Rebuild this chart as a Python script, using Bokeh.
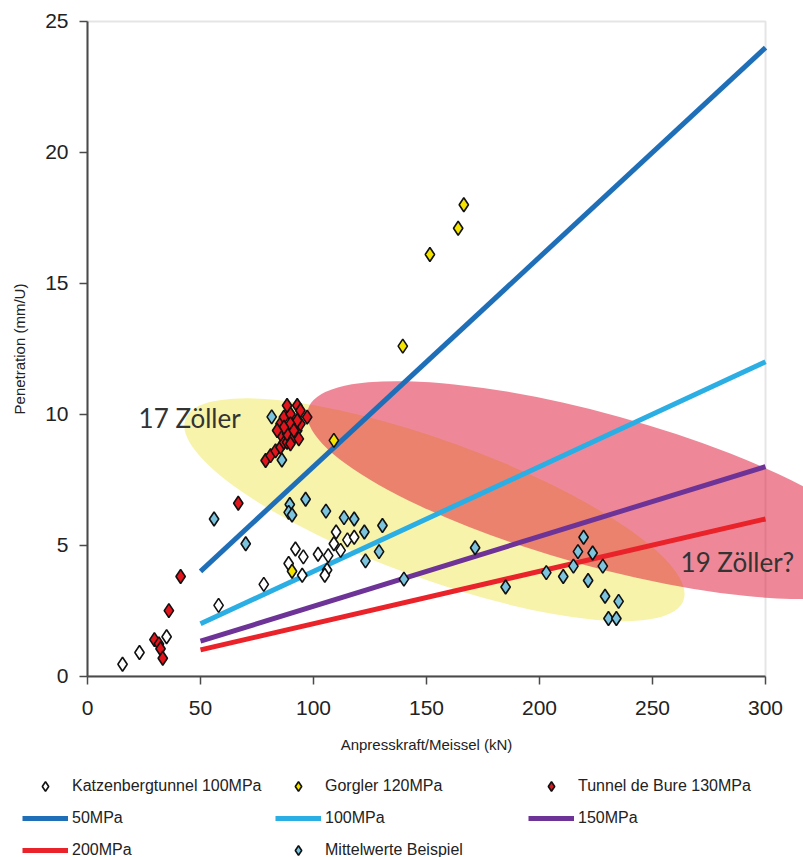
from bokeh.plotting import figure
from bokeh.models import Range1d, FixedTicker, BoxAnnotation, Label, Legend, LegendItem
from bokeh.embed import file_html
from bokeh.resources import INLINE

# ---------------- data ----------------
katz_x = [15.5, 23, 35, 58, 78, 89, 92, 95.5, 95, 102, 106.5, 106, 105, 109, 110, 112, 115, 118]
katz_y = [0.45, 0.9, 1.5, 2.7, 3.5, 4.3, 4.85, 4.55, 3.85, 4.65, 4.6, 4.05, 3.85, 5.05, 5.5, 4.8, 5.2, 5.3]

gorg_x = [90.5, 109, 139.5, 151.5, 164, 166.5]
gorg_y = [4.0, 9.0, 12.6, 16.1, 17.1, 18.0]

bure_x = [29.6, 31.6, 32.3, 33.3, 36, 41.2, 66.7,
          78.8, 81, 83.2, 85.4, 86.9, 88.3, 85.4, 88.3, 91.3, 92.8, 94.2, 85.4, 86.9,
          89.8, 88.3, 92.8, 94.2, 97.2, 92.8, 89.8, 91.3, 86.9, 83.9, 89.8, 93.5]
bure_y = [1.39, 1.23, 1.04, 0.68, 2.5, 3.8, 6.6,
          8.23, 8.42, 8.6, 8.74, 8.93, 8.93, 9.25, 9.25, 9.12, 9.38, 9.63, 9.64, 9.89,
          10.01, 10.33, 10.33, 10.14, 9.89, 9.76, 9.63, 9.38, 9.5, 9.38, 8.87, 9.06]

mitt_x = [56, 70, 81.5, 86, 89.5, 96.5, 89, 90.5, 105.5, 113.5, 118, 122.5, 130.5, 123, 129,
          140, 171.5, 185, 203, 210.5, 215, 217, 219.5, 223.5, 228, 221.5, 229, 235, 230.5, 234]
mitt_y = [6.0, 5.05, 9.9, 8.25, 6.55, 6.75, 6.25, 6.15, 6.3, 6.05, 6.0, 5.5, 5.75, 4.4, 4.75,
          3.7, 4.9, 3.4, 3.95, 3.8, 4.2, 4.75, 5.3, 4.7, 4.2, 3.65, 3.05, 2.85, 2.2, 2.2]

line_x = [50, 300]
mpa50_y = [4, 24]
mpa100_y = [2, 12]
mpa150_y = [1.33, 8]
mpa200_y = [1, 6]

x_ticks = [0, 50, 100, 150, 200, 250, 300]
y_ticks = [0, 5, 10, 15, 20, 25]

# highlight areas: centre (data units), size (screen px), angle (rad)
zone_x = [153.5, 226.5]
zone_y = [6.35, 7.1]
zone_w = [530, 605]
zone_h = [138, 152]
zone_angle = [-0.349, -0.27]
zone_colors = ["#f6f19c", "#dd1131"]
zone_alpha = [0.85, 0.5]

labels_text = ["17 Zöller", "19 Zöller?"]
labels_x = [22.6, 262.4]
labels_y = [9.84, 4.34]

FONT = "Liberation Sans"

# The frame fills the whole canvas; the axes are pinned at x=0 / y=0 so that
# the highlight zones, labels and the legend can use the space around the axes.
p = figure(width=803, height=857, output_backend="svg", toolbar_location=None, title=None,
           x_range=Range1d(-38.5, 316.8), y_range=Range1d(-6.93, 25.8), min_border=0)
p.xgrid.visible = False
p.ygrid.visible = False
p.outline_line_color = None
p.background_fill_color = "white"

# frame border (top/right light grey)
p.add_layout(BoxAnnotation(left=0, right=300, bottom=0, top=25, fill_color=None, fill_alpha=0,
                           line_color="#a8a8a8", line_width=2, level="underlay"))

# highlight ellipses
for i in range(2):
    p.ellipse(x=[zone_x[i]], y=[zone_y[i]], width=[zone_w[i]], height=[zone_h[i]],
              angle=[zone_angle[i]], width_units="screen", height_units="screen",
              fill_color=zone_colors[i], fill_alpha=zone_alpha[i], line_color=None)

# lines
line_styles = [("#1f6fb8", "50MPa"), ("#2aaee4", "100MPa"), ("#6e3396", "150MPa"), ("#ea2229", "200MPa")]
r_lines = []
for ys, (col, _) in zip([mpa50_y, mpa100_y, mpa150_y, mpa200_y], line_styles):
    r_lines.append(p.line(line_x, ys, line_color=col, line_width=5))

# markers
mk = dict(marker="diamond", size=14, line_color="#111111", line_width=1.6)
rk = p.scatter(katz_x, katz_y, fill_color="white", **mk)
rm = p.scatter(mitt_x, mitt_y, fill_color="#7cc3dd", **mk)
rg = p.scatter(gorg_x, gorg_y, fill_color="#f4e400", **mk)
rb = p.scatter(bure_x, bure_y, fill_color="#e2141c", **mk)

for t, lx, ly in zip(labels_text, labels_x, labels_y):
    p.add_layout(Label(x=lx, y=ly, text=t, text_font="Lato", text_font_size="26px",
                       text_color="#333333", text_baseline="middle"))

# axes
for ax in (p.xaxis[0], p.yaxis[0]):
    ax.fixed_location = 0
    ax.axis_line_color = "#4a4a4a"
    ax.axis_line_width = 2
    ax.major_tick_line_color = "#4a4a4a"
    ax.major_tick_line_width = 1.5
    ax.major_tick_out = 8
    ax.major_tick_in = 0
    ax.minor_tick_line_color = None
    ax.major_label_text_font = FONT
    ax.major_label_text_font_size = "21px"
    ax.major_label_text_color = "#222222"
    ax.axis_label_text_font = FONT
    ax.axis_label_text_font_size = "15px"
    ax.axis_label_text_font_style = "normal"
    ax.axis_label_text_color = "#222222"

p.xaxis.ticker = FixedTicker(ticks=x_ticks)
p.yaxis.ticker = FixedTicker(ticks=y_ticks)
p.xaxis.bounds = (0, 300)
p.yaxis.bounds = (0, 25)
p.xaxis.axis_label = "Anpresskraft/Meissel (kN)"
p.yaxis.axis_label = "Penetration (mm/U)"
p.xaxis.major_label_standoff = 17
p.yaxis.major_label_standoff = 11
p.xaxis.axis_label_standoff = 17
p.yaxis.axis_label_standoff = 14

legend = Legend(items=[
    LegendItem(label="Katzenbergtunnel 100MPa", renderers=[rk]),
    LegendItem(label="Gorgler 120MPa", renderers=[rg]),
    LegendItem(label="Tunnel de Bure 130MPa", renderers=[rb]),
    LegendItem(label=line_styles[0][1], renderers=[r_lines[0]]),
    LegendItem(label=line_styles[1][1], renderers=[r_lines[1]]),
    LegendItem(label=line_styles[2][1], renderers=[r_lines[2]]),
    LegendItem(label=line_styles[3][1], renderers=[r_lines[3]]),
    LegendItem(label="Mittelwerte Beispiel", renderers=[rm]),
], location=(22, -9), orientation="horizontal", ncols=3,
   glyph_width=46, glyph_height=24, label_height=32, label_width=203, label_standoff=4,
   spacing=0, padding=0, margin=0, border_line_color=None, background_fill_alpha=0,
   label_text_font=FONT, label_text_font_size="16px", label_text_color="#222222")
p.add_layout(legend)

open("out.html", "w").write(file_html(p, INLINE))
